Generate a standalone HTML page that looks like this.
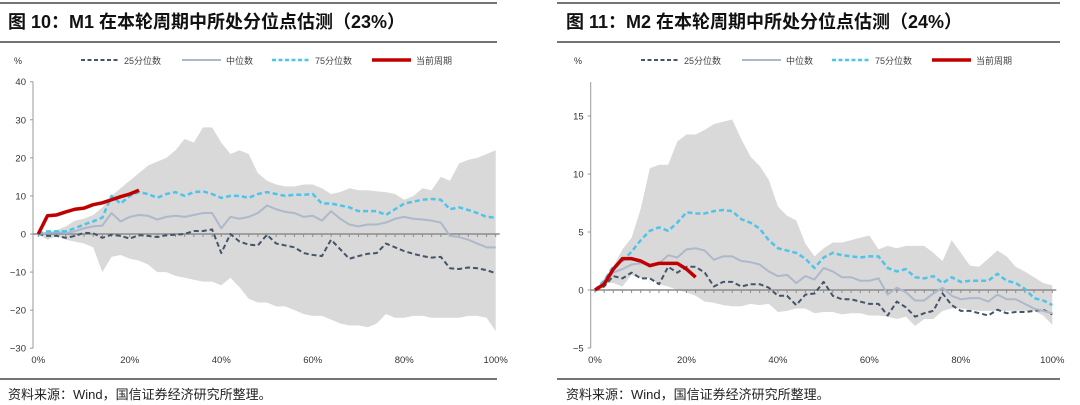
<!DOCTYPE html>
<html><head><meta charset="utf-8">
<style>
body{margin:0;background:#fff;width:1080px;height:405px;overflow:hidden;font-family:"Liberation Sans","Noto Sans CJK SC",sans-serif;}
svg{position:absolute;left:0;top:0}
</style></head>
<body>
<svg id="c" width="1080" height="405"></svg>
<script>
const xs = Array.from({length:51},(_,i)=>i*2);
const xTicks = ["0%","20%","40%","60%","80%","100%"];
// Chart 1 (M1)
const m1Q25=[0,-0.5,-0.5,-1,-0.5,0.3,0.2,-1,-0.2,-0.5,-1.2,-0.3,-0.5,-0.8,-0.3,-0.2,0,0.8,0.8,1.2,-5,0,-2,-2.8,-3,-0.2,-2.5,-3,-3.5,-5,-5.5,-5.8,-1.5,-4,-6.5,-5.8,-5.2,-5,-2.5,-3.5,-4.5,-5.2,-5.8,-6.2,-6,-9,-9.2,-8.8,-9,-9.5,-10.3];
const m1Med=[0,0.3,0.5,0.3,0.7,1.5,2,2.2,5.5,3.3,4.5,5,4.8,3.8,4.5,4.8,4.5,5,5.5,5.5,1.5,4.5,4,4.5,5.5,7.5,6.5,5.8,5.5,4.5,4.8,3.5,6,4,2.5,2,2.5,2.5,3,4,4.5,4,3.8,3.5,3,-0.5,-0.8,-1.5,-2.5,-3.5,-3.5];
const m1Q75=[0,0.7,0.7,0.7,1.5,2.5,3.3,4.3,10,8,10,11,10.5,9.5,10.5,11,10,11,11.2,10.5,9.5,10,10,9.5,10.5,11,10.5,10,10.3,10.3,10.5,8,8,7.5,7,6,6,6,5,6.5,8,8.5,9,9.2,9,6.5,7,6.3,5.5,4.5,4.3];
const m1Max=[0,0,1,2,3.5,4,5,7,10,12,14,16,18,19,20,22,25,24,28,28,24,21,22,21,16,14,13,12.5,12.5,13,13,12,10.5,11,12,11.5,11.5,11.2,11,10.5,9,10,12,11.5,15,14,18.5,19.5,20,21,22];
const m1Min=[0,-1.5,-0.5,-1.5,-2,-2.5,-3.5,-10,-6,-5.5,-6.5,-7,-8,-10,-10,-11,-11.5,-12,-12.5,-12.5,-13.5,-11.5,-14,-17,-18,-18,-19,-19,-20,-21,-21.5,-21.5,-22.5,-23.5,-24,-24,-24.5,-23.5,-21,-22,-22,-21.5,-21.5,-22,-22,-22,-22,-21.5,-21.5,-22,-25.5];
const m1Cur=[0,4.8,5,5.8,6.5,6.8,7.7,8.2,9,9.8,10.5,11.5];
const m1YTicks=[40,30,20,10,0,-10,-20,-30];
// Chart 2 (M2)
const m2Q25=[0,0.3,1.2,1,1.5,1,1,0.5,2,1.5,2,2,1.5,0.3,0.7,0.7,0.3,0.5,0.5,0.2,-0.5,-0.5,-1.3,-0.4,-0.3,0.7,-0.5,-0.8,-0.8,-1,-1.2,-1.2,-2.2,-1,-1.5,-2.3,-2,-1.8,-0.3,-1.3,-1.8,-1.8,-2,-2.2,-1.7,-2,-1.9,-1.9,-1.8,-1.7,-2.1];
const m2Med=[0,0.5,1.5,1.8,2.2,2.3,2.2,2.3,3,2.8,3.5,3.6,3.4,2.6,2.9,2.9,2.5,2.4,2.2,1.6,1.2,1.3,0.6,1.2,0.9,1.9,1.6,1.1,1.1,0.8,0.8,1,-0.4,0.2,-0.2,-0.9,-0.9,-0.3,0.2,-0.5,-0.8,-0.7,-0.7,-1,-0.4,-0.8,-0.8,-1.2,-1.6,-1.8,-2];
const m2Q75=[0,0.8,2,2.5,3.3,4.3,5.1,5.4,5.1,5.8,6.7,6.6,6.6,6.8,6.9,6.8,6.1,5.8,5.3,4.3,3.6,3.4,3.2,2.7,1.9,2.8,3.2,3,2.9,2.8,2.9,2.9,1.9,1.6,1.8,1.1,1,1.2,0.6,1.1,0.7,0.8,0.8,0.8,1.4,0.8,0.6,0.1,-0.7,-0.9,-1.3];
const m2Max=[0,1,2,3.5,4.5,7,10.5,10.8,10.8,12.8,13.4,13.4,13.8,14.3,14.5,14.7,13,11.5,10.7,9.5,7.2,6.4,6,4,2.9,3.6,4.1,4.1,4.3,4.5,4.7,3.5,3.8,3.6,3.8,3.8,3.8,3.2,2.5,4.3,3.2,2.1,2,2.7,3.4,2.9,2,1.6,1.1,0.6,0.4];
const m2Min=[0,0.6,0.6,0.3,1.3,1,1,0.5,0.3,0,-0.2,-0.5,-1,-1.1,-1.3,-1.4,-1.4,-1.2,-1.3,-1.2,-1.9,-1.8,-1.6,-1.6,-2,-1.9,-1.9,-2.1,-2,-2,-2.2,-2.2,-2.3,-2.5,-2.3,-3.1,-2.5,-2.5,-1.8,-1.6,-1.6,-1.7,-1.8,-1.8,-1.8,-1.8,-1.8,-1.8,-1.8,-2.2,-3];
const m2Cur=[0,0.5,1.8,2.7,2.7,2.5,2.1,2.3,2.3,2.3,1.8,1.1];
const m2YTicks=[15,10,5,0,-5];

const NS="http://www.w3.org/2000/svg";
const svg=document.getElementById('c');
function mk(tag,attrs,parent){const e=document.createElementNS(NS,tag);for(const k in attrs)e.setAttribute(k,attrs[k]);(parent||svg).appendChild(e);return e;}
function txt(x,y,s,size,anchor,weight,parent,fill){const t=mk('text',{x:x,y:y,'font-size':size,'text-anchor':anchor||'start','font-weight':weight||'normal',fill:fill||'#222'},parent);t.textContent=s;return t;}

function chart(o){
  const g=mk('g',{});
  
  
  const X=v=>o.x0+(o.x1-o.x0)*v/100;
  const Y=v=>o.y0+(v-o.v0)*(o.y1-o.y0)/(o.v1-o.v0);
  // rules
  [3,42,379].forEach(yy=>{
    const r=mk('line',{x1:o.lx0,x2:o.lx1,y1:yy,y2:yy,stroke:'#222','stroke-width':1.3},g);
    
    
  });
  // title
  const t=txt(o.tx,28,o.title,18,'start','bold',g,'#111');
  
  
  // unit
  const u=txt(o.ox+18,64,'%',9,'middle','normal',g,'#333');
  
  
  // legend
  const leg=[['25分位数','#44546a','4,2.5',2],['中位数','#adb9ca','',2],['75分位数','#4fc3ea','4,2.5',2.5],['当前周期','#c00000','',3.5]];
  const lx=[81,182,272,372];
  leg.forEach((l,i)=>{
    const lg=mk('g',{},g);
    
    
    mk('line',{x1:o.ox+lx[i],x2:o.ox+lx[i]+39,y1:60,y2:60,stroke:l[1],'stroke-width':l[3],'stroke-dasharray':l[2]},lg);
    txt(o.ox+lx[i]+(i==1||i==3?44:43),64,l[0],9,'start','normal',lg,'#444');
  });
  // band
  let d='M'+xs.map((x,i)=>X(x)+','+Y(o.max[i])).join('L');
  for(let i=xs.length-1;i>=0;i--) d+='L'+X(xs[i])+','+Y(o.min[i]);
  const band=mk('path',{d:d+'Z',fill:'#d9d9d9',stroke:'none'},g);
  
  
  // y axis
  const ya=mk('g',{},g);
  
  
  mk('line',{x1:o.ax,x2:o.ax,y1:Y(o.yt[0])-(o.extraTop||0),y2:Y(o.yt[o.yt.length-1]),stroke:'#999','stroke-width':1},ya);
  o.yt.forEach(v=>{mk('line',{x1:o.ax-3,x2:o.ax,y1:Y(v),y2:Y(v),stroke:'#999'},ya);txt(o.ax-7,Y(v)+3.5,v<0?'−'+(-v):String(v),9.5,'end','normal',ya,'#333');});
  // zero line + minor ticks
  const za=mk('g',{},g);
  
  
  mk('line',{x1:o.ax,x2:X(100)+4,y1:Y(0),y2:Y(0),stroke:'#8c8c8c','stroke-width':1.5},za);
  xs.forEach(x=>mk('line',{x1:X(x),x2:X(x),y1:Y(0),y2:Y(0)+3,stroke:'#8c8c8c'},za));
  xTicks.forEach((s,i)=>txt(X(i*20),363,s,9.5,'middle','normal',za,'#333'));
  // series
  const ser=[[o.q25,'#44546a','5,3',2,'q25-line'],[o.med,'#adb9ca','',2,'median-line'],[o.q75,'#4fc3ea','5,3',2.5,'q75-line'],[o.cur,'#c00000','',3.5,'current-cycle-line']];
  ser.forEach(s=>{
    const p=mk('path',{d:'M'+s[0].map((v,i)=>X(xs[i])+','+Y(v)).join('L'),fill:'none',stroke:s[1],'stroke-width':s[3],'stroke-dasharray':s[2],'stroke-linejoin':'round'},g);
    
    
  });
  // source
  const src=txt(o.tx,399,'资料来源：Wind，国信证券经济研究所整理。',13,'start','normal',g,'#222');
  
  
}
chart({name:'m1-chart',title:'图 10：M1 在本轮周期中所处分位点估测（23%）',tx:8,lx0:0,lx1:497,ox:0,ax:33,x0:38.3,x1:495.7,v0:0,y0:234,v1:40,y1:81.7,yt:m1YTicks,q25:m1Q25,med:m1Med,q75:m1Q75,max:m1Max,min:m1Min,cur:m1Cur});
chart({name:'m2-chart',title:'图 11：M2 在本轮周期中所处分位点估测（24%）',tx:566,lx0:557,lx1:1060,ox:560,ax:590.7,x0:595,x1:1052.3,v0:0,y0:290,v1:15,y1:116,yt:m2YTicks,extraTop:34,q25:m2Q25,med:m2Med,q75:m2Q75,max:m2Max,min:m2Min,cur:m2Cur});
</script>
</body></html>
